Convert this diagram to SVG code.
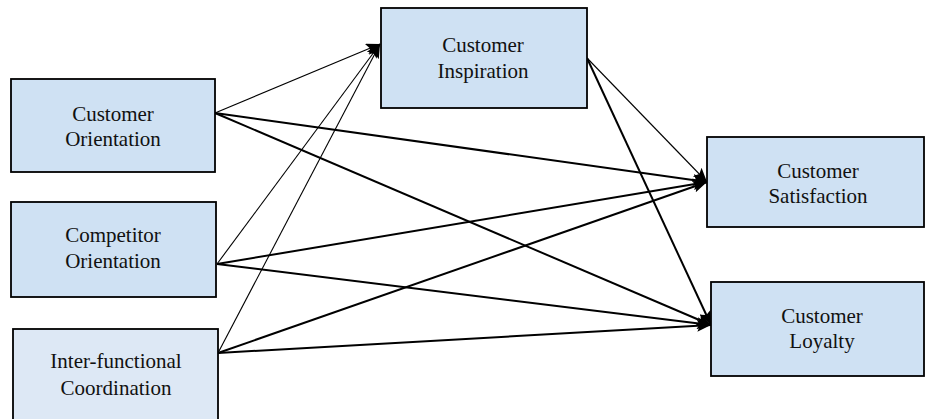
<svg xmlns="http://www.w3.org/2000/svg" width="925" height="419" viewBox="0 0 925 419">
<style>
.box{fill:#cfe1f3;stroke:#000;stroke-width:1.8}
.box2{fill:#dde8f5;stroke:#000;stroke-width:1.8}
.t{font-family:"Liberation Serif","Times New Roman",serif;font-size:21px;fill:#111;text-anchor:middle}
.thin{stroke:#000;stroke-width:1.1;fill:none;marker-end:url(#ah)}
.thick{stroke:#000;stroke-width:2;fill:none;marker-end:url(#ah)}
</style>
<defs>
<marker id="ah" markerUnits="userSpaceOnUse" markerWidth="16" markerHeight="12" refX="14" refY="6" orient="auto">
<path d="M0,0 L14,6 L0,12 L3,6 Z" fill="#000"/>
</marker>
</defs>
<g id="connectors">
<line class="thin" x1="215" y1="113" x2="380" y2="44"/>
<line class="thick" x1="215" y1="113" x2="707" y2="182"/>
<line class="thick" x1="215" y1="113" x2="711" y2="325"/>
<line class="thin" x1="217" y1="264" x2="380" y2="44"/>
<line class="thick" x1="217" y1="264" x2="707" y2="182"/>
<line class="thick" x1="217" y1="264" x2="711" y2="325"/>
<line class="thin" x1="218" y1="353" x2="380" y2="44"/>
<line class="thick" x1="218" y1="353" x2="707" y2="182"/>
<line class="thick" x1="218" y1="353" x2="711" y2="325"/>
<line class="thin" x1="587" y1="58" x2="707" y2="182"/>
<line class="thick" x1="587" y1="58" x2="711" y2="325"/>
</g>
<g id="customer-orientation">
<rect class="box" x="11" y="79" width="204" height="93"/>
<text class="t" x="113" y="121">Customer</text>
<text class="t" x="113" y="146">Orientation</text>
</g>
<g id="competitor-orientation">
<rect class="box" x="11" y="202" width="205" height="95"/>
<text class="t" x="113" y="242">Competitor</text>
<text class="t" x="113" y="268">Orientation</text>
</g>
<g id="inter-functional-coordination">
<rect class="box2" x="13" y="329" width="205" height="95"/>
<text class="t" x="116" y="368">Inter-functional</text>
<text class="t" x="116" y="395">Coordination</text>
</g>
<g id="customer-inspiration">
<rect class="box" x="381" y="8" width="206" height="100"/>
<text class="t" x="483" y="52">Customer</text>
<text class="t" x="483" y="78">Inspiration</text>
</g>
<g id="customer-satisfaction">
<rect class="box" x="707" y="137" width="217" height="90"/>
<text class="t" x="818" y="178">Customer</text>
<text class="t" x="818" y="203">Satisfaction</text>
</g>
<g id="customer-loyalty">
<rect class="box" x="711" y="282" width="213" height="94"/>
<text class="t" x="822" y="323">Customer</text>
<text class="t" x="822" y="348">Loyalty</text>
</g>
</svg>
